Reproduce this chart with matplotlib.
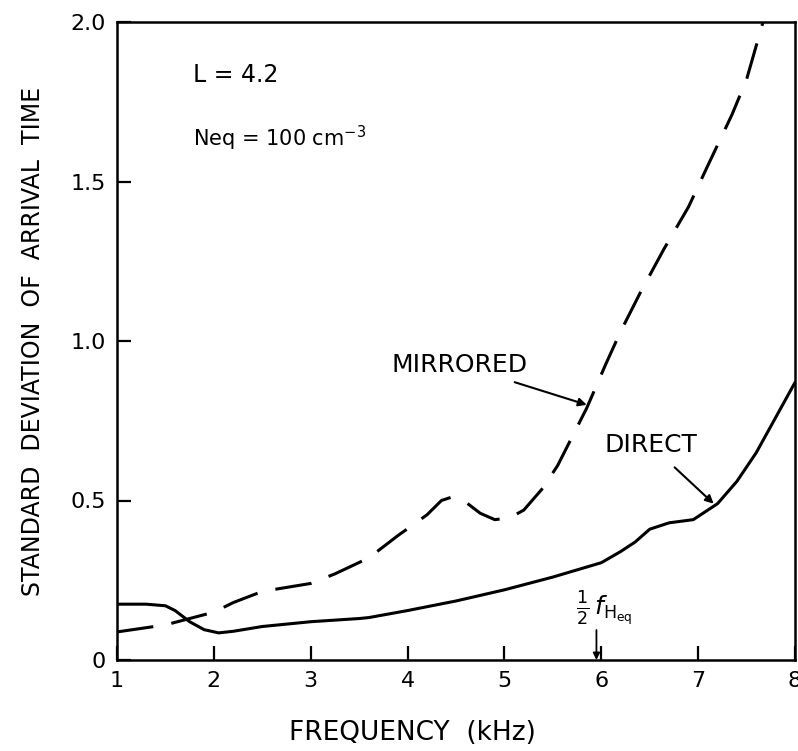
import numpy as np
import matplotlib.pyplot as plt

plt.rcParams['font.family'] = 'DejaVu Sans'
plt.rcParams['mathtext.fontset'] = 'dejavusans'

# Direct (solid) curve
direct_f = [1.0, 1.3, 1.5, 1.6, 1.75, 1.9, 2.05, 2.2, 2.5, 3.0, 3.5, 3.6, 4.0, 4.5,
            5.0, 5.5, 6.0, 6.2, 6.35, 6.5, 6.7, 6.95, 7.1, 7.2, 7.4, 7.6, 7.8, 8.0]
direct_sd = [0.175, 0.175, 0.17, 0.155, 0.12, 0.095, 0.085, 0.09, 0.105, 0.12, 0.13, 0.133,
             0.155, 0.185, 0.22, 0.26, 0.305, 0.34, 0.37, 0.41, 0.43, 0.44, 0.47, 0.49,
             0.56, 0.65, 0.76, 0.87]

# Mirrored (dashed) curve
mirr_f = [1.0, 1.5, 2.0, 2.2, 2.5, 3.0, 3.25, 3.6, 3.9, 4.2, 4.35, 4.45, 4.6, 4.75, 4.9,
          5.05, 5.2, 5.4, 5.55, 5.7, 5.85, 6.05, 6.2, 6.4, 6.65, 6.9, 7.1, 7.35, 7.5, 7.67]
mirr_sd = [0.088, 0.11, 0.15, 0.18, 0.215, 0.24, 0.27, 0.32, 0.39, 0.455, 0.50, 0.51, 0.495,
           0.46, 0.44, 0.445, 0.47, 0.54, 0.61, 0.70, 0.79, 0.93, 1.03, 1.15, 1.29, 1.42,
           1.55, 1.71, 1.82, 2.0]

xticks = [1, 2, 3, 4, 5, 6, 7, 8]
yticks = [0, 0.5, 1.0, 1.5, 2.0]
ytick_labels = ['0', '0.5', '1.0', '1.5', '2.0']
half_fheq = 5.95

fig = plt.figure(figsize=(7.98, 7.51), dpi=100)
ax = fig.add_axes([117 / 798, 91 / 751, 678 / 798, 638 / 751])

ax.plot(direct_f, direct_sd, color='black', lw=2.2, solid_capstyle='round')
ax.plot(mirr_f, mirr_sd, color='black', lw=2.2, dashes=(12, 6), dash_capstyle='butt')

ax.set_xlim(1, 8)
ax.set_ylim(0, 2.0)
ax.set_xticks(xticks)
ax.set_yticks(yticks)
ax.set_yticklabels(ytick_labels)
ax.tick_params(direction='in', length=10, width=1.6, labelsize=16, pad=8)
for s in ax.spines.values():
    s.set_linewidth(1.8)

# axis titles (x title sits left of centre in the original)
fig.text(412 / 798, 1 - 733 / 751, 'FREQUENCY  (kHz)', fontsize=19, ha='center', va='center')
ax.set_ylabel('STANDARD  DEVIATION  OF  ARRIVAL  TIME', fontsize=17, labelpad=18)

ax.text(1.78, 1.834, 'L = 4.2', fontsize=17, va='center', ha='left')
ax.text(1.78, 1.636, 'Neq = 100 cm$^{-3}$', fontsize=15, va='center', ha='left')

ax.annotate('MIRRORED', xy=(5.85, 0.80), xytext=(3.835, 0.925), fontsize=18,
            va='center', ha='left',
            arrowprops=dict(arrowstyle='-|>', color='black', lw=1.5, mutation_scale=12,
                            shrinkA=6, shrinkB=0))
ax.annotate('DIRECT', xy=(7.16, 0.49), xytext=(6.03, 0.674), fontsize=18,
            va='center', ha='left',
            arrowprops=dict(arrowstyle='-|>', color='black', lw=1.5, mutation_scale=12,
                            shrinkA=8, shrinkB=0))

ax.annotate('', xy=(half_fheq, 0.0), xytext=(half_fheq, 0.094),
            arrowprops=dict(arrowstyle='-|>', color='black', lw=1.3, mutation_scale=10,
                            shrinkA=0, shrinkB=0))
ax.text(5.74, 0.16, r'$\frac{1}{2}\,f_{\mathrm{H_{eq}}}$', fontsize=18, va='center', ha='left')

fig.savefig('out.png', dpi=100)
